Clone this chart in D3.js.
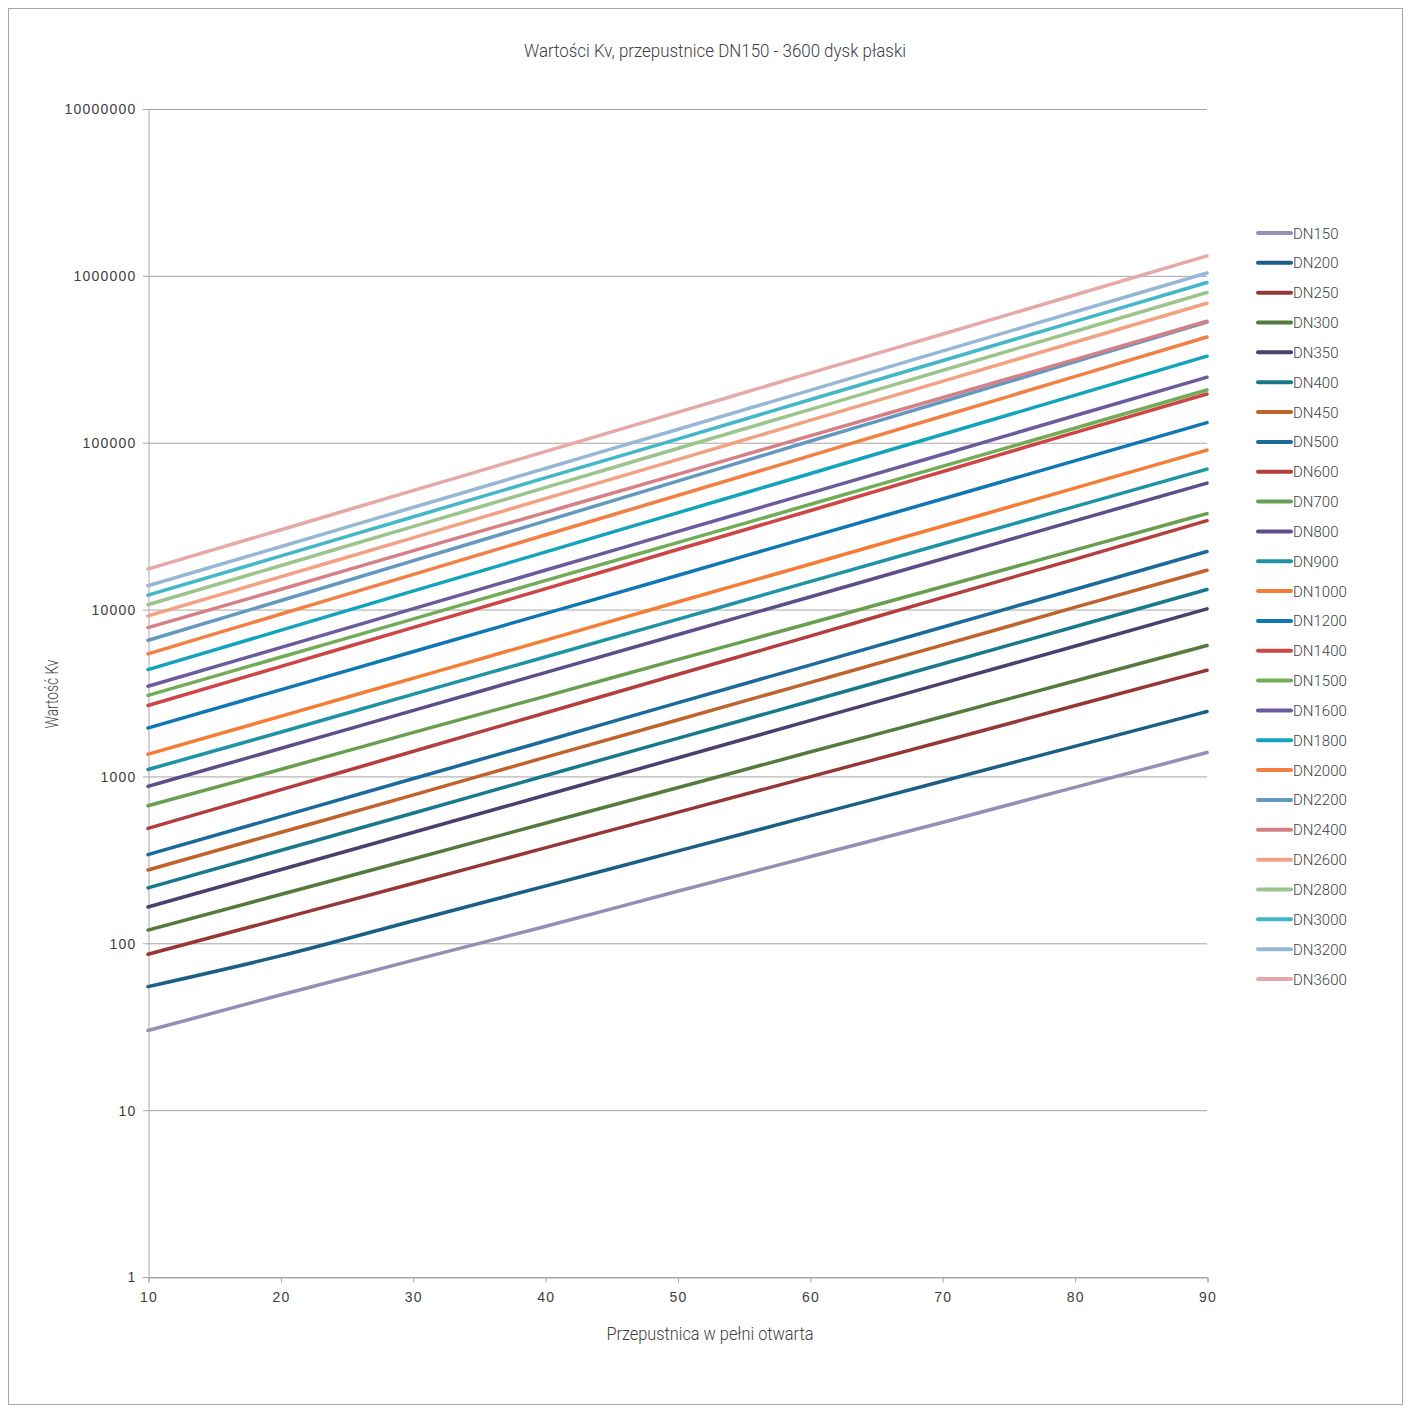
<!DOCTYPE html>
<html>
<head>
<meta charset="utf-8">
<script src="https://cdn.jsdelivr.net/npm/d3@7"></script>
<style>
  body { margin: 0; background: #fff; }
  text { font-family: Roboto, "Liberation Sans", sans-serif; font-weight: 300; fill: #404040; }
</style>
</head>
<body>
<svg id="chart" width="1410" height="1408"></svg>
<script>
// ----------------------
// data
// ----------------------
const openings = [10, 20, 30, 40, 50, 60, 70, 80, 90];
const seriesNames = ["DN150", "DN200", "DN250", "DN300", "DN350", "DN400", "DN450", "DN500",
  "DN600", "DN700", "DN800", "DN900", "DN1000", "DN1200", "DN1400", "DN1500", "DN1600",
  "DN1800", "DN2000", "DN2200", "DN2400", "DN2600", "DN2800", "DN3000", "DN3200", "DN3600"];
const seriesColors = ["#958fb5", "#1b5e86", "#953735", "#557a3e", "#4b3f6e", "#17798a", "#c0622c", "#1b6a9a",
  "#b43e3e", "#679f4f", "#5d4e8a", "#1e93a6", "#f47c33", "#0f77b3", "#cd4545", "#72ac57", "#6c5b9c",
  "#13a4bc", "#f28044", "#6398c1", "#d67f86", "#f3a183", "#9cc48d", "#42b7c8", "#97b7d6", "#e6a8a8"];

const kvDN150  = [30, 49, 79, 126, 205, 330, 530, 860, 1390];
const kvDN200  = [55, 84, 136, 220, 357, 578, 936, 1515, 2450];
const kvDN250  = [86, 140, 228, 373, 609, 994, 1620, 2650, 4330];
const kvDN300  = [120, 196, 320, 524, 855, 1400, 2280, 3730, 6090];
const kvDN350  = [165, 276, 461, 771, 1290, 2160, 3610, 6030, 10100];
const kvDN400  = [215, 360, 602, 1010, 1690, 2820, 4720, 7890, 13200];
const kvDN450  = [275, 461, 773, 1300, 2180, 3650, 6120, 10300, 17200];
const kvDN500  = [340, 574, 968, 1630, 2760, 4650, 7840, 13200, 22300];
const kvDN600  = [488, 830, 1410, 2400, 4080, 6930, 11800, 20000, 34100];
const kvDN700  = [667, 1100, 1830, 3020, 5010, 8280, 13700, 22700, 37600];
const kvDN800  = [871, 1470, 2480, 4190, 7070, 11900, 20100, 34000, 57300];
const kvDN900  = [1100, 1840, 3100, 5200, 8740, 14700, 24700, 41400, 69500];
const kvDN1000 = [1360, 2290, 3870, 6540, 11100, 18700, 31600, 53400, 90300];
const kvDN1200 = [1950, 3300, 5590, 9460, 16000, 27200, 46000, 77900, 132000];
const kvDN1400 = [2660, 4550, 7800, 13300, 22900, 39100, 67000, 115000, 196000];
const kvDN1500 = [3060, 5180, 8770, 14900, 25200, 42600, 72200, 122000, 207000];
const kvDN1600 = [3470, 5910, 10100, 17200, 29300, 49900, 85000, 145000, 247000];
const kvDN1800 = [4370, 7500, 12900, 22100, 38000, 65200, 112000, 192000, 330000];
const kvDN2000 = [5430, 9380, 16200, 28000, 48300, 83400, 144000, 249000, 430000];
const kvDN2200 = [6540, 11300, 19600, 33900, 58800, 102000, 176000, 305000, 528000];
const kvDN2400 = [7800, 13200, 22500, 38100, 64600, 110000, 186000, 315000, 535000];
const kvDN2600 = [9160, 15700, 26900, 46200, 79200, 136000, 233000, 400000, 686000];
const kvDN2800 = [10700, 18300, 31400, 53800, 92300, 158000, 271000, 464000, 795000];
const kvDN3000 = [12200, 20900, 35900, 61500, 105000, 181000, 310000, 532000, 912000];
const kvDN3200 = [13900, 23800, 40900, 70100, 120000, 206000, 354000, 607000, 1040000];
const kvDN3600 = [17500, 30000, 51600, 88500, 152000, 261000, 447000, 768000, 1318000];

const yTicks = [1, 10, 100, 1000, 10000, 100000, 1000000, 10000000];
const xTicks = [10, 20, 30, 40, 50, 60, 70, 80, 90];

const allValues = [kvDN150, kvDN200, kvDN250, kvDN300, kvDN350, kvDN400, kvDN450, kvDN500,
  kvDN600, kvDN700, kvDN800, kvDN900, kvDN1000, kvDN1200, kvDN1400, kvDN1500, kvDN1600,
  kvDN1800, kvDN2000, kvDN2200, kvDN2400, kvDN2600, kvDN2800, kvDN3000, kvDN3200, kvDN3600];

const series = seriesNames.map((name, i) => ({
  name,
  color: seriesColors[i],
  points: openings.map((x, j) => ({ x, v: allValues[i][j] }))
}));

// ----------------------
// layout
// ----------------------
const svg = d3.select("#chart");
const plot = { left: 148, right: 1207, top: 109, bottom: 1277 };

// outer frame
svg.append("rect")
  .attr("x", 8.5).attr("y", 8.5)
  .attr("width", 1394).attr("height", 1396)
  .attr("fill", "none").attr("stroke", "#a6a6a6").attr("stroke-width", 1);

const xScale = d3.scaleLinear().domain([10, 90]).range([plot.left, plot.right]);
const yScale = d3.scaleLog().domain([1, 10000000]).range([plot.bottom, plot.top]);

// gridlines
svg.append("g")
  .selectAll("line")
  .data(yTicks)
  .join("line")
  .attr("x1", plot.left - 5).attr("x2", plot.right)
  .attr("y1", d => yScale(d) + 0.5).attr("y2", d => yScale(d) + 0.5)
  .attr("stroke", "#a6a6a6").attr("stroke-width", 1);

const tickFont = sel => sel
  .style("font-family", "'Liberation Sans', Arial, sans-serif")
  .style("font-weight", "400")
  .style("font-size", "14px")
  .style("letter-spacing", "1.2px")
  .attr("fill", "#404040");

// y axis
const yAxis = d3.axisLeft(yScale)
  .tickValues(yTicks)
  .tickFormat(d3.format("d"))
  .tickSize(0)
  .tickPadding(12);
const yAxisG = svg.append("g")
  .attr("transform", `translate(${plot.left + 0.5},0.5)`)
  .call(yAxis);
yAxisG.select(".domain").attr("stroke", "#a6a6a6");
yAxisG.selectAll("text").call(tickFont);

// x axis
const xAxis = d3.axisBottom(xScale)
  .tickValues(xTicks)
  .tickFormat(d3.format("d"))
  .tickSize(5)
  .tickPadding(10);
const xAxisG = svg.append("g")
  .attr("transform", `translate(0.5,${plot.bottom + 0.5})`)
  .call(xAxis);
xAxisG.select(".domain").attr("stroke", "#a6a6a6");
xAxisG.selectAll(".tick line").attr("stroke", "#a6a6a6");
xAxisG.selectAll("text").call(tickFont);

// lines
const lineGen = d3.line()
  .x(d => xScale(d.x))
  .y(d => yScale(d.v))
  .curve(d3.curveMonotoneX);

svg.append("g")
  .selectAll("path")
  .data(series)
  .join("path")
  .attr("fill", "none")
  .attr("stroke", d => d.color)
  .attr("stroke-width", 3.5)
  .attr("stroke-linecap", "round")
  .attr("d", d => lineGen(d.points));

// titles
svg.append("text")
  .attr("x", 715).attr("y", 57)
  .attr("text-anchor", "middle")
  .attr("textLength", 382)
  .attr("lengthAdjust", "spacingAndGlyphs")
  .style("font-size", "19px")
  .text("Wartości Kv, przepustnice DN150 - 3600 dysk płaski");

svg.append("text")
  .attr("x", 710).attr("y", 1340)
  .attr("text-anchor", "middle")
  .attr("textLength", 207)
  .attr("lengthAdjust", "spacingAndGlyphs")
  .style("font-size", "18px")
  .text("Przepustnica w pełni otwarta");

svg.append("text")
  .attr("transform", "translate(58,694) rotate(-90)")
  .attr("text-anchor", "middle")
  .attr("textLength", 69)
  .attr("lengthAdjust", "spacingAndGlyphs")
  .style("font-size", "18px")
  .text("Wartość Kv");

// legend
const legend = svg.append("g")
  .attr("transform", "translate(1258,233)");
const legendItem = legend.selectAll("g")
  .data(series)
  .join("g")
  .attr("transform", (d, i) => `translate(0,${i * 29.84})`);
legendItem.append("line")
  .attr("x1", 0).attr("x2", 33)
  .attr("stroke", d => d.color)
  .attr("stroke-width", 4)
  .attr("stroke-linecap", "round");
legendItem.append("text")
  .attr("x", 35).attr("y", 5.5)
  .style("font-size", "15px")
  .text(d => d.name);
</script>
</body>
</html>
